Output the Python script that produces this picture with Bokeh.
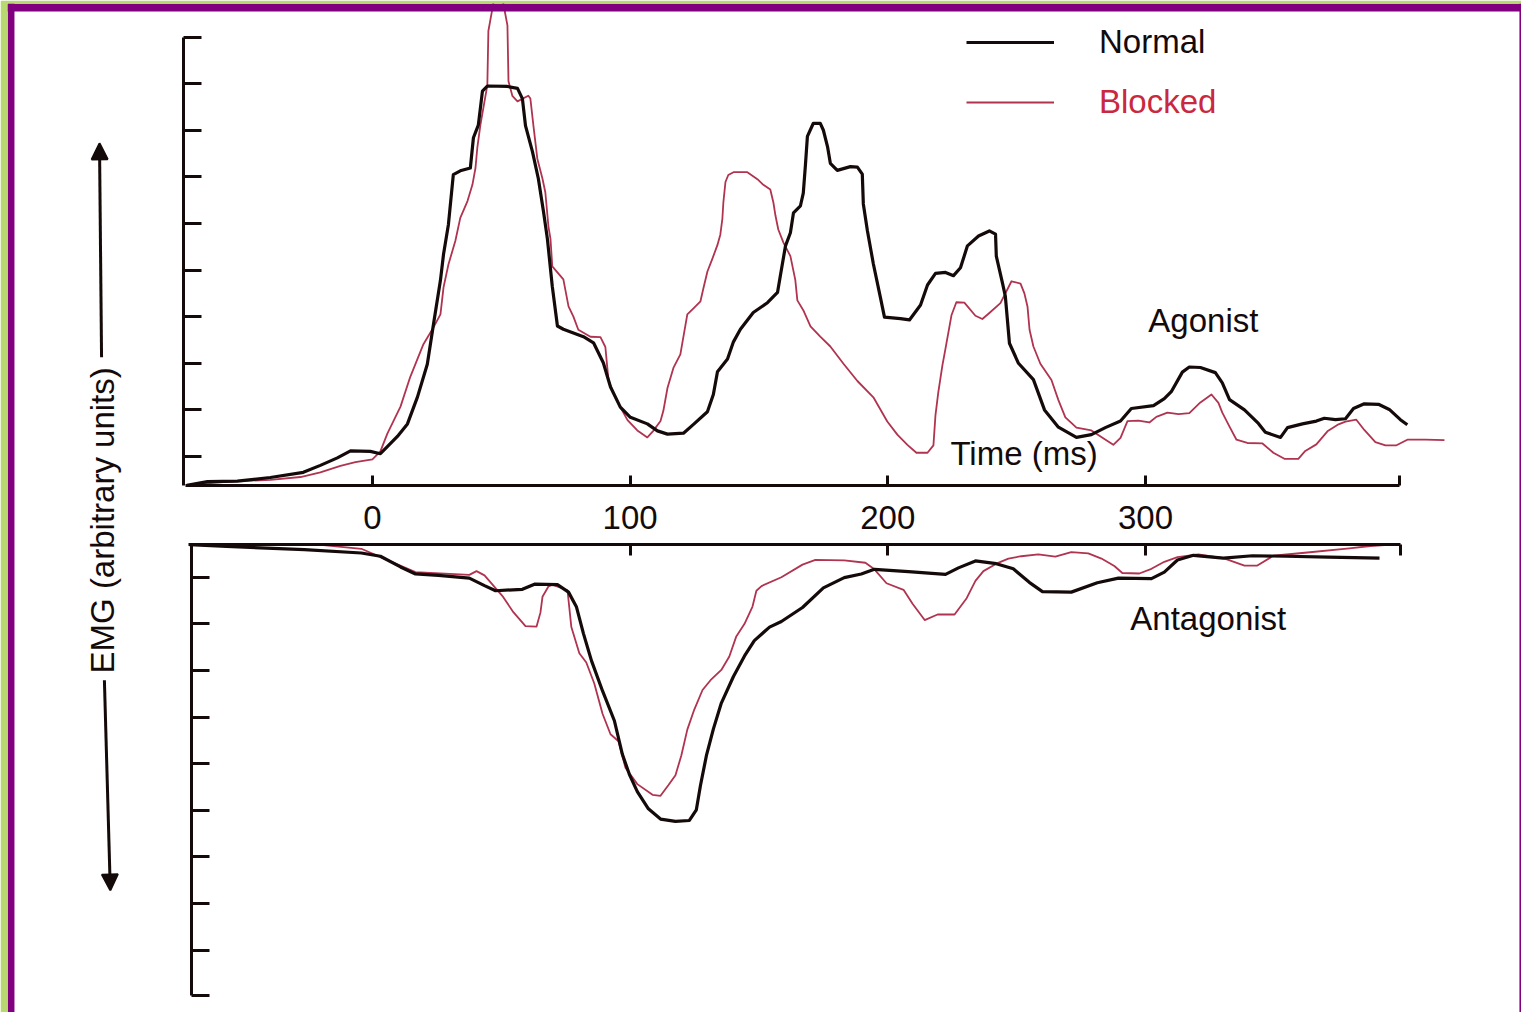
import math
from bokeh.plotting import figure
from bokeh.models import (Range1d, LinearAxis, FixedTicker, Label, Arrow, NormalHead,
                          Legend, LegendItem, BoxAnnotation)
from bokeh.embed import file_html
from bokeh.resources import INLINE

# ---------------- data (time in ms, EMG in arbitrary units) ----------------
agon_normal_t = [-72, -64, -52.4, -39.6, -26.8, -20.2, -13.6, -8.5, -0.8, 3.1,
                 5.8, 9.7, 13.6, 17.5, 21.3, 23.7, 26.4, 27.6, 29.5, 31.4,
                 34.1, 38.0, 39.2, 41.1, 42.7, 44.6, 52.4, 56.3, 58.2, 59.4,
                 62.1, 64.4, 66.4, 67.9, 69.8, 71.8, 74.1, 81.9, 85.8, 89.6,
                 92.4, 96.2, 100.1, 106.7, 110.6, 114.5, 120.7, 124.6, 130.0, 132.3,
                 133.9, 137.8, 140.1, 142.8, 147.8, 153.3, 157.2, 158.3, 160.3, 162.2,
                 163.4, 166.1, 167.2, 168.0, 168.8, 171.1, 173.8, 175.0, 176.6, 177.7,
                 180.4, 185.5, 188.2, 190.1, 190.5, 192.1, 194.4, 197.1, 198.7, 204.9,
                 208.4, 212.7, 215.4, 218.5, 222.4, 225.5, 228.2, 230.9, 235.2, 239.4,
                 241.8, 242.1, 244.5, 245.6, 247.2, 250.7, 256.5, 260.8, 266.2, 273.2,
                 279.0, 284.4, 290.3, 294.5, 303.1, 307.3, 310.0, 314.3, 317.0, 321.3,
                 327.1, 329.8, 332.6, 338.4, 343.8, 346.5, 352.4, 355.1, 360.9, 366.3,
                 369.4, 373.7, 377.6, 380.7, 384.9, 390.4, 394.6, 398.9, 401.6]
agon_normal = [0.0, 0.08, 0.09, 0.17, 0.28, 0.43, 0.59, 0.74, 0.73, 0.68,
               0.83, 1.05, 1.32, 1.90, 2.60, 3.46, 4.40, 4.96, 5.60, 6.67,
               6.75, 6.81, 7.46, 7.73, 8.46, 8.57, 8.56, 8.52, 8.30, 7.72,
               7.16, 6.58, 5.87, 5.29, 4.27, 3.42, 3.35, 3.19, 3.06, 2.63,
               2.11, 1.68, 1.46, 1.32, 1.17, 1.10, 1.12, 1.31, 1.58, 1.95,
               2.44, 2.71, 3.08, 3.35, 3.71, 3.92, 4.14, 4.50, 5.14, 5.42,
               5.85, 6.00, 6.27, 6.85, 7.49, 7.77, 7.77, 7.62, 7.27, 6.91,
               6.76, 6.84, 6.83, 6.68, 6.04, 5.46, 4.75, 4.04, 3.61, 3.58,
               3.55, 3.87, 4.30, 4.55, 4.57, 4.50, 4.67, 5.14, 5.35, 5.46,
               5.39, 4.92, 4.34, 4.06, 3.05, 2.62, 2.27, 1.62, 1.25, 1.03,
               1.09, 1.24, 1.38, 1.65, 1.71, 1.86, 2.01, 2.43, 2.54, 2.53,
               2.42, 2.20, 1.84, 1.62, 1.33, 1.14, 1.03, 1.24, 1.32, 1.38,
               1.44, 1.41, 1.43, 1.65, 1.75, 1.74, 1.63, 1.41, 1.30]

agon_blocked_t = [-65.6, -52.4, -39.6, -27.9, -20.2, -12.4, -6.6, 0.0, 3.1, 5.8,
                  10.9, 14.7, 19.8, 23.7, 26.4, 27.6, 29.5, 32.2, 34.1, 36.9,
                  38.8, 40.0, 40.7, 41.9, 44.6, 45.0, 46.6, 48.5, 50.8, 52.4,
                  52.8, 54.3, 56.3, 60.5, 61.3, 62.5, 64.0, 66.0, 67.1, 68.3,
                  69.1, 69.8, 74.1, 76.1, 78.0, 79.9, 84.6, 88.5, 90.4, 91.6,
                  93.5, 96.2, 99.0, 102.8, 106.7, 109.0, 111.8, 112.9, 114.5, 116.8,
                  119.5, 122.2, 124.6, 127.3, 128.4, 130.0, 131.9, 133.9, 135.0, 135.8,
                  136.2, 137.0, 138.1, 140.1, 145.5, 149.4, 151.7, 154.4, 155.6, 156.4,
                  157.5, 159.5, 162.2, 164.1, 164.9, 167.2, 170.0, 173.8, 177.7, 182.8,
                  188.2, 194.4, 199.8, 203.7, 207.6, 211.1, 215.4, 217.7, 218.5, 219.6,
                  221.2, 222.4, 224.7, 226.6, 229.7, 234.0, 236.7, 239.4, 243.7, 248.0,
                  251.5, 253.0, 254.2, 255.0, 256.5, 259.2, 263.5, 266.2, 268.9, 273.2,
                  279.0, 283.3, 287.5, 290.3, 293.0, 297.2, 301.5, 304.2, 308.5, 312.8,
                  317.0, 321.3, 325.6, 328.3, 329.8, 332.6, 335.3, 339.5, 345.4, 349.6,
                  353.9, 359.3, 362.0, 366.3, 370.6, 374.9, 377.6, 381.8, 384.9, 389.2,
                  393.1, 397.4, 401.6, 408.6, 416.0]
agon_blocked = [0.04, 0.09, 0.12, 0.18, 0.28, 0.42, 0.50, 0.56, 0.73, 1.11,
                1.69, 2.33, 3.03, 3.39, 3.67, 4.25, 4.74, 5.25, 5.74, 6.10,
                6.45, 6.81, 7.24, 7.73, 8.59, 9.75, 10.24, 10.9, 10.34, 9.87,
                8.67, 8.36, 8.24, 8.36, 8.30, 7.71, 7.01, 6.58, 6.29, 5.56,
                5.29, 4.70, 4.42, 3.84, 3.62, 3.34, 3.19, 3.18, 2.97, 2.26,
                1.98, 1.68, 1.40, 1.18, 1.03, 1.17, 1.38, 1.60, 2.09, 2.52,
                2.81, 3.67, 3.80, 3.95, 4.22, 4.59, 4.86, 5.16, 5.38, 5.72,
                6.08, 6.51, 6.66, 6.72, 6.72, 6.57, 6.45, 6.35, 6.07, 5.79,
                5.49, 5.21, 4.92, 4.41, 3.97, 3.76, 3.41, 3.19, 2.98, 2.61,
                2.24, 1.89, 1.37, 1.09, 0.87, 0.70, 0.70, 0.86, 1.51, 2.00,
                2.58, 2.94, 3.65, 3.93, 3.92, 3.64, 3.57, 3.70, 3.91, 4.38,
                4.33, 4.12, 3.84, 3.34, 2.98, 2.61, 2.26, 1.83, 1.46, 1.24,
                1.18, 1.02, 0.87, 1.02, 1.38, 1.39, 1.35, 1.47, 1.56, 1.53,
                1.55, 1.78, 1.95, 1.77, 1.56, 1.26, 0.98, 0.91, 0.90, 0.70,
                0.57, 0.57, 0.74, 0.88, 1.16, 1.31, 1.37, 1.41, 1.19, 0.93,
                0.86, 0.86, 0.98, 0.98, 0.97]

# antagonist activity (plotted downward)
antag_normal_t = [-71.0, -56.6, -26.4, -4.3, 3.1, 10.9, 16.7, 25.6, 37.6, 43.5,
                  47.8, 58.2, 62.9, 71.8, 76.1, 79.2, 81.9, 85.0, 89.3, 93.9,
                  97.0, 99.7, 102.8, 107.1, 111.8, 117.6, 123.0, 125.7, 127.3, 129.6,
                  132.3, 135.4, 140.1, 144.4, 148.2, 154.1, 158.7, 166.9, 175.0, 183.1,
                  189.7, 194.8, 208.0, 222.4, 227.4, 234.0, 242.1, 248.7, 254.9, 260.0,
                  271.2, 281.3, 289.5, 302.3, 307.3, 312.4, 318.6, 330.2, 341.5, 354.7,
                  371.0, 390.8]
antag_normal = [0.0, 0.04, 0.11, 0.18, 0.25, 0.48, 0.63, 0.66, 0.72, 0.88,
                0.99, 0.96, 0.85, 0.86, 1.02, 1.34, 1.91, 2.49, 3.14, 3.78,
                4.50, 4.93, 5.30, 5.67, 5.89, 5.94, 5.92, 5.69, 5.17, 4.53,
                3.96, 3.40, 2.83, 2.39, 2.06, 1.77, 1.65, 1.35, 0.93, 0.71,
                0.63, 0.53, 0.58, 0.64, 0.50, 0.35, 0.41, 0.52, 0.81, 1.01,
                1.02, 0.82, 0.72, 0.73, 0.59, 0.33, 0.23, 0.29, 0.24, 0.25,
                0.27, 0.29]

antag_blocked_t = [-71.0, -48.5, -19.0, -4.3, 7.0, 16.7, 37.6, 40.4, 43.5, 50.4,
                   54.7, 59.4, 63.7, 65.2, 66.0, 68.3, 69.8, 75.7, 77.2, 80.3,
                   83.0, 86.1, 89.3, 92.4, 95.5, 98.2, 102.8, 108.7, 111.8, 114.9,
                   117.6, 119.9, 122.2, 124.9, 128.1, 131.2, 135.4, 138.5, 141.2, 144.4,
                   147.5, 149.0, 151.0, 158.7, 166.9, 171.9, 183.1, 191.3, 194.8, 199.5,
                   206.1, 209.6, 214.3, 219.3, 225.9, 230.6, 234.0, 237.1, 242.1, 246.8,
                   251.8, 258.4, 265.0, 271.2, 277.8, 282.9, 287.9, 291.0, 297.6, 302.3,
                   307.3, 312.4, 320.5, 330.2, 338.4, 343.4, 349.6, 362.8, 379.1, 387.3,
                   395.4]
antag_blocked = [0.0, 0.0, 0.01, 0.09, 0.36, 0.59, 0.65, 0.57, 0.66, 1.10,
                 1.45, 1.75, 1.76, 1.46, 1.12, 0.90, 0.86, 0.98, 1.77, 2.33,
                 2.53, 2.98, 3.63, 4.07, 4.22, 4.79, 5.14, 5.37, 5.39, 5.16,
                 4.95, 4.52, 3.97, 3.54, 3.12, 2.91, 2.69, 2.40, 1.97, 1.70,
                 1.33, 0.99, 0.89, 0.70, 0.43, 0.33, 0.34, 0.39, 0.53, 0.83,
                 0.97, 1.27, 1.62, 1.50, 1.50, 1.15, 0.78, 0.57, 0.41, 0.30,
                 0.25, 0.21, 0.26, 0.16, 0.19, 0.30, 0.46, 0.61, 0.62, 0.52,
                 0.37, 0.27, 0.21, 0.29, 0.45, 0.45, 0.24, 0.17, 0.08, 0.03,
                 0.0]

time_ticks = [0, 100, 200, 300]
time_labels = ["0", "100", "200", "300"]
agonist_ticks = [0.62, 1.62, 2.62, 3.62, 4.62, 5.62, 6.62, 7.62, 8.62, 9.62]
antagonist_ticks = [0.7, 1.7, 2.7, 3.7, 4.7, 5.7, 6.7, 7.7, 8.7, 9.68]
series_names = ["Normal", "Blocked"]

# ---------------- styling ----------------
FONT = "Liberation Sans"
INK = "#150a0a"
RED = "#b0334f"
RED_TXT = "#c9283e"
PURPLE = "#800080"
GREEN = "#b8d870"
FS = "33px"

X0, X1 = -141.6, 445.9          # frame spans page x 7 .. 1521
p = figure(width=1521, height=1012, output_backend="svg", toolbar_location=None,
           x_range=Range1d(X0, X1), y_range=Range1d(-11.31, 10.34),
           x_axis_type=None, y_axis_type=None,
           min_border_left=7, min_border_right=0, min_border_top=3, min_border_bottom=0,
           border_fill_color=GREEN, background_fill_color="white",
           outline_line_color=None)
p.extra_y_ranges = {"antag": Range1d(start=10.04, end=-11.61)}


def style_axis(ax, tick_in):
    ax.axis_line_color = INK
    ax.axis_line_width = 3
    ax.major_tick_line_color = INK
    ax.major_tick_line_width = 3
    ax.major_tick_in = tick_in
    ax.major_tick_out = 0
    ax.minor_tick_in = 0
    ax.minor_tick_out = 0
    ax.major_label_text_font = FONT
    ax.major_label_text_font_size = FS
    ax.major_label_text_color = INK


# agonist EMG axis (left, ticks only)
ag_y = LinearAxis(ticker=FixedTicker(ticks=agonist_ticks), bounds=(0, agonist_ticks[-1]),
                  fixed_location=-73.3,
                  major_label_overrides={t: "" for t in agonist_ticks})
style_axis(ag_y, 18)
p.add_layout(ag_y, "left")

# antagonist EMG axis (left, ticks only, inverted)
an_y = LinearAxis(y_range_name="antag", ticker=FixedTicker(ticks=antagonist_ticks),
                  bounds=(0, antagonist_ticks[-1]), fixed_location=-70.2,
                  major_label_overrides={t: "" for t in antagonist_ticks})
style_axis(an_y, 18)
p.add_layout(an_y, "left")

# time axis under the agonist traces
t_over = {t: s for t, s in zip(time_ticks, time_labels)}
t_over[398.5] = ""
t_ax = LinearAxis(ticker=FixedTicker(ticks=time_ticks + [398.5]), bounds=(-72.5, 398.5),
                  fixed_location=0, major_label_overrides=t_over,
                  major_label_standoff=21)
style_axis(t_ax, 10)
p.add_layout(t_ax, "below")

# time axis above the antagonist traces (no labels)
an_ticks = time_ticks[1:] + [399.0]
a_ax = LinearAxis(y_range_name="antag", ticker=FixedTicker(ticks=an_ticks),
                  bounds=(-71.4, 399.0), fixed_location=0,
                  major_label_overrides={t: "" for t in an_ticks})
style_axis(a_ax, 11)
p.add_layout(a_ax, "above")

# traces
r_blk_ag = p.line(agon_blocked_t, agon_blocked, line_color=RED, line_width=1.8,
                  line_join="round")
p.line(antag_blocked_t, antag_blocked, y_range_name="antag", line_color=RED,
       line_width=1.8, line_join="round")
r_nrm_ag = p.line(agon_normal_t, agon_normal, line_color=INK, line_width=3.2,
                  line_join="round")
p.line(antag_normal_t, antag_normal, y_range_name="antag", line_color=INK,
       line_width=3.2, line_join="round")

# purple page frame (left, top, right)
p.add_layout(BoxAnnotation(left=X0, right=-138.9, fill_color=PURPLE, fill_alpha=1,
                           line_color=None))
p.add_layout(BoxAnnotation(bottom=10.17, fill_color=PURPLE, fill_alpha=1, line_color=None))
p.add_layout(BoxAnnotation(left=445.1, right=X1, fill_color=PURPLE, fill_alpha=1,
                           line_color=None))

# legends
common = dict(glyph_width=88, glyph_height=40, label_height=40, label_standoff=45,
              padding=0, spacing=0, margin=0, border_line_color=None,
              background_fill_alpha=0, label_text_font=FONT, label_text_font_size=FS)
leg1 = Legend(items=[LegendItem(label=series_names[0], renderers=[r_nrm_ag])],
              location=(959, 950), label_text_color=INK, **common)
leg2 = Legend(items=[LegendItem(label=series_names[1], renderers=[r_blk_ag])],
              location=(959, 890), label_text_color=RED_TXT, **common)
p.add_layout(leg1)
p.add_layout(leg2)

# text annotations
lab = dict(text_font=FONT, text_font_size=FS, text_color=INK, text_baseline="middle")
p.add_layout(Label(x=224.3, y=0.69, text="Time (ms)", **lab))
p.add_layout(Label(x=301.1, y=3.54, text="Agonist", **lab))
p.add_layout(Label(x=294.1, y=1.59, y_range_name="antag", text="Antagonist", **lab))
p.add_layout(Label(x=-104.6, y=-0.75, text="EMG (arbitrary units)", angle=math.pi / 2,
                   text_align="center", **lab))

# double arrow of the EMG label
p.add_layout(Arrow(end=NormalHead(size=16, fill_color=INK, line_color=INK, line_width=2),
                   x_start=-105.1, y_start=2.75, x_end=-105.9, y_end=7.34,
                   line_width=3, line_color=INK))
p.add_layout(Arrow(end=NormalHead(size=16, fill_color=INK, line_color=INK, line_width=2),
                   x_start=-104.0, y_start=-4.18, x_end=-101.7, y_end=-8.69,
                   line_width=3, line_color=INK))

open("out.html", "w").write(file_html(p, INLINE))
